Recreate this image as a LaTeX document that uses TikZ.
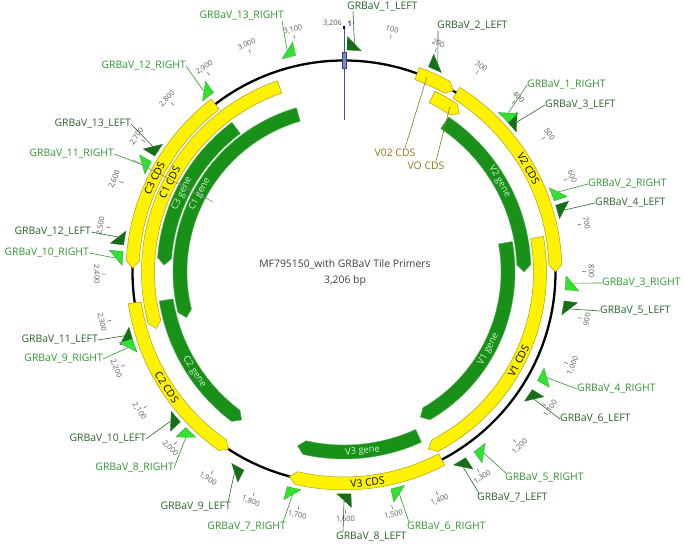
\documentclass[tikz,border=0pt]{standalone}
\usepackage{fontspec}
\setmainfont{Open Sans}
\usetikzlibrary{calc}
\definecolor{ltext}{RGB}{40,100,40}
\definecolor{rtext}{RGB}{50,150,50}
\definecolor{lfill}{RGB}{25,110,25}
\definecolor{rfill}{RGB}{50,225,50}
\definecolor{redge}{RGB}{30,160,30}
\definecolor{gfill}{RGB}{25,145,25}
\definecolor{gedge}{RGB}{90,175,90}
\definecolor{yedge}{RGB}{175,160,20}
\definecolor{olivetxt}{RGB}{140,120,30}
\definecolor{markblue}{RGB}{60,85,170}
\definecolor{tickgray}{RGB}{90,90,90}
\definecolor{genetext}{RGB}{205,240,205}

% forward bar: arrow at p2
\newcommand{\barF}[5]{%
  \pgfmathsetmacro\aS{90-#1*0.11228946}%
  \pgfmathsetmacro\aE{90-#2*0.11228946}%
  \pgfmathsetmacro\aB{\aE+7/#3*57.2958}%
  \pgfmathsetmacro\Ro{#3+#5}%
  \pgfmathsetmacro\Ri{#3-#5}%
  \path[#4] (\aS:\Ro) arc[start angle=\aS,end angle=\aB,radius=\Ro] -- (\aE:#3) -- (\aB:\Ri) arc[start angle=\aB,end angle=\aS,radius=\Ri] -- cycle;
}
% reverse bar: arrow at p1
\newcommand{\barR}[5]{%
  \pgfmathsetmacro\aS{90-#1*0.11228946}%
  \pgfmathsetmacro\aE{90-#2*0.11228946}%
  \pgfmathsetmacro\aB{\aS-7/#3*57.2958}%
  \pgfmathsetmacro\Ro{#3+#5}%
  \pgfmathsetmacro\Ri{#3-#5}%
  \path[#4] (\aE:\Ro) arc[start angle=\aE,end angle=\aB,radius=\Ro] -- (\aS:#3) -- (\aB:\Ri) arc[start angle=\aB,end angle=\aE,radius=\Ri] -- cycle;
}
% feature label
\newcommand{\flabel}[5]{%
  \pgfmathsetmacro\aL{90-#2*0.11228946}%
  \pgfmathsetmacro\rL{sin(\aL)>=0 ? \aL-90 : \aL+90}%
  \node[#5, rotate=\rL] (#1) at (\aL:#3) {#4};
}
% primers: forward (tip clockwise) and reverse
\newcommand{\primF}[2]{%
  \pgfmathsetmacro\aP{90-#2}%
  \pgfmathsetmacro\aPa{\aP+1.8}%
  \pgfmathsetmacro\aPb{\aP-1.8}%
  \path[primL] (\aPa:222) -- (\aPa:235.5) -- (\aPb:222) -- cycle;
  \coordinate (#1) at (\aP:229);
}
\newcommand{\primR}[2]{%
  \pgfmathsetmacro\aP{90-#2}%
  \pgfmathsetmacro\aPa{\aP-1.8}%
  \pgfmathsetmacro\aPb{\aP+1.8}%
  \path[primRt] (\aPa:222) -- (\aPa:235.5) -- (\aPb:222) -- cycle;
  \coordinate (#1) at (\aP:229);
}

\tikzset{
  ybar/.style={fill=yellow, draw=yedge, line width=0.5pt},
  gbar/.style={fill=gfill, draw=gedge, line width=0.4pt},
  primL/.style={fill=lfill, draw=lfill, line width=0.3pt},
  primRt/.style={fill=rfill, draw=redge, line width=0.3pt},
  lblL/.style={text=ltext, font=\fontsize{10.4}{12}\selectfont, inner sep=0pt},
  lblR/.style={text=rtext, font=\fontsize{10.4}{12}\selectfont, inner sep=0pt},
  leadL/.style={draw=ltext, line width=0.6pt},
  leadR/.style={draw=rtext, line width=0.6pt},
  cdslbl/.style={text=black, font=\fontsize{10.3}{12}\selectfont, inner sep=0pt},
  genelbl/.style={text=genetext, font=\fontsize{9.3}{11}\selectfont, inner sep=0pt},
  ticklbl/.style={text=tickgray, font=\fontsize{7.4}{8}\selectfont, inner sep=0pt},
  tickmark/.style={draw=tickgray, line width=0.5pt},
  olivelbl/.style={text=olivetxt, font=\fontsize{10.4}{12}\selectfont, inner sep=0pt},
  olivelead/.style={draw=olivetxt, line width=0.6pt},
}

\begin{document}
\begin{tikzpicture}[x=1pt,y=1pt]
\useasboundingbox (0,0) rectangle (685,545);
\fill[white] (0,0) rectangle (685,545);

\begin{scope}[shift={(344,273)}]
  % backbone
  \draw[line width=2.3pt] (0,0) circle[radius=211.5];
  % origin marker line
  \draw[markblue, line width=0.8pt] (0,244) -- (0,152);
  \draw[black, line width=1.2pt] (0,243) -- (0,246);
  \fill[markblue!70!white, draw=markblue!80!black, line width=0.3pt] (-2,204) rectangle (2,220);

  % track 1 (on backbone)
  \barF{180}{277}{211.5}{ybar}{6.5}
  \barF{286}{801}{211.5}{ybar}{6.5}
  \barF{1358}{1736}{211.5}{ybar}{6.5}
  \barR{1898}{2330}{211.5}{ybar}{6.5}
  \barR{2414}{2872}{211.5}{ybar}{6.5}
  % track 2
  \barF{238}{321}{196}{ybar}{6.5}
  \barF{711}{1376}{196}{ybar}{6.5}
  \barR{2255}{3035}{196}{ybar}{6.5}
  % track 3
  \barF{303}{801}{180}{gbar}{7}
  \barF{1385}{1736}{180}{gbar}{7}
  \barR{1912}{2325}{180}{gbar}{7}
  \barR{2424}{2878}{180}{gbar}{7}
  % track 4
  \barF{710}{1356}{164}{gbar}{7}
  \barR{2261}{3062}{164}{gbar}{7}

  % feature labels
  \flabel{fV2c}{541}{211.5}{V2 CDS}{cdslbl}
  \flabel{fV1c}{1042}{196}{V1 CDS}{cdslbl}
  \flabel{fV3c}{1546}{211.5}{V3 CDS}{cdslbl}
  \flabel{fC2c}{2110}{211.5}{C2 CDS}{cdslbl}
  \flabel{fC3c}{2639}{211.5}{C3 CDS}{cdslbl}
  \flabel{fC1c}{2646}{196}{C1 CDS}{cdslbl}
  \flabel{fC3g}{2634}{180}{C3 gene}{genelbl}
  \flabel{fC1g}{2658}{164}{C1 gene}{genelbl}
  \flabel{fV2g}{533}{180}{V2 gene}{genelbl}
  \flabel{fV1g}{1052}{164}{V1 gene}{genelbl}
  \flabel{fV3g}{1550}{180}{V3 gene}{genelbl}
  \flabel{fC2g}{2104}{180}{C2 gene}{genelbl}

  % tick marks and labels
  \foreach \p/\t in {100/100,200/200,300/300,400/400,500/500,600/600,700/700,800/800,900/900,
      1000/{1,000},1100/{1,100},1200/{1,200},1300/{1,300},1400/{1,400},1500/{1,500},1600/{1,600},
      1700/{1,700},1800/{1,800},1900/{1,900},2000/{2,000},2100/{2,100},2200/{2,200},2300/{2,300},
      2400/{2,400},2500/{2,500},2600/{2,600},2700/{2,700},2800/{2,800},2900/{2,900},3000/{3,000},3100/{3,100}}{
    \pgfmathsetmacro\aT{90-\p*0.11228946}
    \pgfmathsetmacro\rT{sin(\aT)>=0 ? \aT-90 : \aT+90}
    \draw[tickmark] (\aT:238) -- (\aT:242);
    \node[ticklbl, rotate=\rT] (tk\p) at (\aT:247.5) {\t};
  }

  % primers
  \primF{pr1L}{2.6}
  \primF{pr2L}{24.2}
  \primF{pr3L}{49.1}
  \primF{pr4L}{74.3}
  \primF{pr5L}{99.3}
  \primF{pr6L}{123.8}
  \primF{pr7L}{148.6}
  \primF{pr8L}{180}
  \primF{pr9L}{208.6}
  \primF{pr10L}{229.3}
  \primF{pr11L}{253.8}
  \primF{pr12L}{278.8}
  \primF{pr13L}{303.3}
  \primR{pr1R}{45.9}
  \primR{pr2R}{69.5}
  \primR{pr3R}{92.8}
  \primR{pr4R}{117.5}
  \primR{pr5R}{142.3}
  \primR{pr6R}{166}
  \primR{pr7R}{193}
  \primR{pr8R}{223.7}
  \primR{pr9R}{250.7}
  \primR{pr10R}{273.5}
  \primR{pr11R}{298}
  \primR{pr12R}{322.2}
  \primR{pr13R}{345.6}

  % anchor points on the small V0 bars
  \coordinate (v02pt) at ({90-205*0.11228946}:211.5);
  \coordinate (vopt) at ({90-291*0.11228946}:196);
\end{scope}

% origin labels
\node[ticklbl, anchor=east] (orgn) at (342,521.5) {3,206};
\node[text=markblue, font=\bfseries\fontsize{7.4}{8}\selectfont, inner sep=0pt, anchor=west] (one) at (347.5,521.5) {1};

% title
\node[text=black!75, font=\fontsize{10.4}{12}\selectfont, inner sep=0pt] (title) at (345,281) {MF795150\_with GRBaV Tile Primers};
\node[text=black!75, font=\fontsize{10.4}{12}\selectfont, inner sep=0pt] (size) at (345,264) {3,206 bp};

% V0 labels
\node[olivelbl] (v02) at (395,392) {V02 CDS};
\node[olivelbl] (vo) at (426,379) {VO CDS};
\draw[olivelead] ($(v02.north)+(10,1)$) -- (v02pt);
\draw[olivelead] ($(vo.north)+(10,1)$) -- (vopt);

% stray grey pointer line
\coordinate (gl1) at (133,385);
\coordinate (gl2) at (213,343);
\draw[black!45, line width=0.6pt] (gl1) -- (gl2);

% primer labels - right side
\node[lblR, anchor=west] (t1R) at (527,460) {GRBaV\_1\_RIGHT};
\node[lblL, anchor=west] (t3L) at (545,440) {GRBaV\_3\_LEFT};
\node[lblR, anchor=west] (t2R) at (588,361) {GRBaV\_2\_RIGHT};
\node[lblL, anchor=west] (t4L) at (595,342) {GRBaV\_4\_LEFT};
\node[lblR, anchor=west] (t3R) at (602,262) {GRBaV\_3\_RIGHT};
\node[lblL, anchor=west] (t5L) at (600,234) {GRBaV\_5\_LEFT};
\node[lblR, anchor=west] (t4R) at (577,156) {GRBaV\_4\_RIGHT};
\node[lblL, anchor=west] (t6L) at (560,126) {GRBaV\_6\_LEFT};
\node[lblR, anchor=west] (t5R) at (505,67) {GRBaV\_5\_RIGHT};
\node[lblL, anchor=west] (t7L) at (477,47) {GRBaV\_7\_LEFT};
\node[lblR, anchor=west] (t6R) at (407,18) {GRBaV\_6\_RIGHT};
\node[lblL, anchor=west] (t8L) at (336,8) {GRBaV\_8\_LEFT};
% left side
\node[lblR, anchor=east] (t7R) at (286,18) {GRBaV\_7\_RIGHT};
\node[lblL, anchor=east] (t9L) at (231,38) {GRBaV\_9\_LEFT};
\node[lblR, anchor=east] (t8R) at (174,77) {GRBaV\_8\_RIGHT};
\node[lblL, anchor=east] (t10L) at (146,106) {GRBaV\_10\_LEFT};
\node[lblR, anchor=east] (t9R) at (103,186) {GRBaV\_9\_RIGHT};
\node[lblL, anchor=east] (t11L) at (98,205) {GRBaV\_11\_LEFT};
\node[lblR, anchor=east] (t10R) at (89,292) {GRBaV\_10\_RIGHT};
\node[lblL, anchor=east] (t12L) at (91,313) {GRBaV\_12\_LEFT};
\node[lblR, anchor=east] (t11R) at (114,391) {GRBaV\_11\_RIGHT};
\node[lblL, anchor=east] (t13L) at (131,421) {GRBaV\_13\_LEFT};
\node[lblR, anchor=east] (t12R) at (186,479) {GRBaV\_12\_RIGHT};
% top
\node[lblR, anchor=east] (t13R) at (284,529) {GRBaV\_13\_RIGHT};
\node[lblL, anchor=west] (t1L) at (347,538) {GRBaV\_1\_LEFT};
\node[lblL, anchor=west] (t2L) at (437,519) {GRBaV\_2\_LEFT};

% leaders
\draw[leadR] (t1R.west) -- (pr1R);
\draw[leadL] (t3L.west) -- (pr3L);
\draw[leadR] (t2R.west) -- (pr2R);
\draw[leadL] (t4L.west) -- (pr4L);
\draw[leadR] (t3R.west) -- (pr3R);
\draw[leadL] (t5L.west) -- (pr5L);
\draw[leadR] (t4R.west) -- (pr4R);
\draw[leadL] (t6L.west) -- (pr6L);
\draw[leadR] ($(t5R.north west)+(1,0)$) -- (pr5R);
\draw[leadL] ($(t7L.north west)+(2,0)$) -- (pr7L);
\draw[leadR] ($(t6R.north west)+(2,0)$) -- (pr6R);
\draw[leadL] ($(t8L.north west)+(7,0)$) -- (pr8L);
\draw[leadR] ($(t7R.north east)+(-3,0)$) -- (pr7R);
\draw[leadL] ($(t9L.north east)+(-3,0)$) -- (pr9L);
\draw[leadR] (t8R.east) -- (pr8R);
\draw[leadL] (t10L.east) -- (pr10L);
\draw[leadR] (t9R.east) -- (pr9R);
\draw[leadL] (t11L.east) -- (pr11L);
\draw[leadR] (t10R.east) -- (pr10R);
\draw[leadL] (t12L.east) -- (pr12L);
\draw[leadR] (t11R.east) -- (pr11R);
\draw[leadL] (t13L.east) -- (pr13L);
\draw[leadR] (t12R.east) -- (pr12R);
\draw[leadR] ($(t13R.south east)+(-2,0)$) -- (pr13R);
\draw[leadL] ($(t1L.south west)+(6,0)$) -- (pr1L);
\draw[leadL] ($(t2L.south west)+(1,0)$) -- (pr2L);
\end{tikzpicture}
\end{document}
